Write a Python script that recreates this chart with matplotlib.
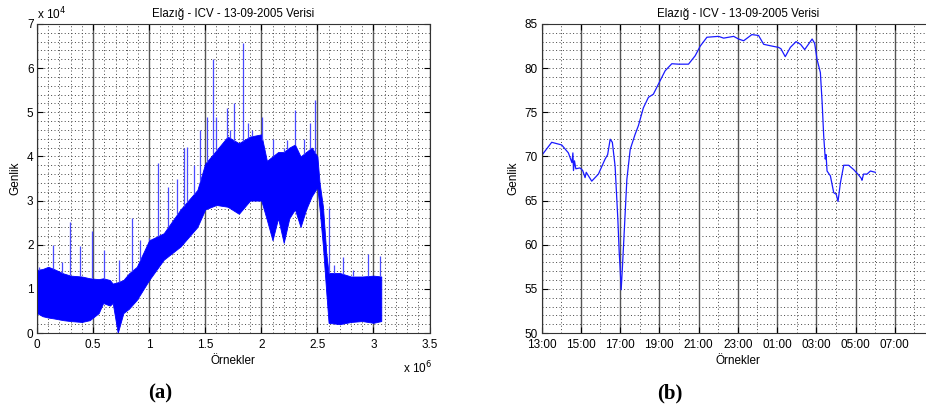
import matplotlib
matplotlib.use('Agg')
import matplotlib.pyplot as plt
import numpy as np
from matplotlib.ticker import MultipleLocator

plt.rcParams['font.family'] = ['Liberation Sans', 'DejaVu Sans']
plt.rcParams['font.size'] = 8.5

title = 'Elazığ - ICV - 13-09-2005 Verisi'

# ---- panel (a): raw samples, envelope of the dense band (x in 1e6, y in 1e4)
band_x = [0.0, 0.05, 0.1, 0.15, 0.235, 0.3, 0.4, 0.47, 0.55, 0.59, 0.65, 0.675, 0.72,
          0.77, 0.82, 0.89, 1.0, 1.13, 1.28, 1.43, 1.5, 1.6, 1.7, 1.8, 1.9, 2.0,
          2.05, 2.1, 2.15, 2.2, 2.25, 2.3, 2.35, 2.4, 2.45, 2.5, 2.52, 2.55, 2.58,
          2.6, 2.7, 2.8, 2.9, 3.0, 3.07]
band_low = [0.45, 0.38, 0.35, 0.33, 0.29, 0.27, 0.25, 0.29, 0.45, 0.68, 0.62, 0.68, 0.0,
            0.45, 0.55, 0.75, 1.2, 1.66, 1.96, 2.4, 2.8, 2.9, 2.86, 2.7, 3.0, 3.0,
            2.56, 2.1, 2.6, 2.04, 2.6, 2.8, 2.4, 2.8, 3.1, 3.3, 2.8, 1.96, 0.9,
            0.23, 0.2, 0.25, 0.27, 0.23, 0.27]
band_high = [1.43, 1.45, 1.5, 1.45, 1.35, 1.3, 1.28, 1.24, 1.22, 1.24, 1.2, 1.12, 1.15,
             1.2, 1.35, 1.5, 2.1, 2.26, 2.8, 3.24, 3.84, 4.14, 4.45, 4.3, 4.45, 4.5,
             3.9, 4.0, 4.1, 4.1, 4.2, 4.27, 4.0, 4.1, 4.2, 4.0, 3.4, 2.86, 1.8,
             1.36, 1.36, 1.28, 1.28, 1.3, 1.28]

spike_x = [0.02, 0.146, 0.22, 0.295, 0.38, 0.49, 0.6, 0.73, 0.845, 0.92, 1.0, 1.08,
           1.17, 1.25, 1.31, 1.34, 1.4, 1.455, 1.515, 1.57, 1.6, 1.69, 1.72, 1.76,
           1.84, 1.88, 1.92, 2.01, 2.1, 2.2, 2.23, 2.3, 2.38, 2.43, 2.48, 2.6,
           2.65, 2.73, 2.82, 2.95, 3.06]
spike_top = [1.5, 2.0, 1.6, 2.52, 1.96, 2.3, 1.88, 1.65, 2.6, 2.1, 2.15, 3.84,
             3.31, 3.5, 4.18, 4.22, 3.8, 4.6, 4.9, 6.2, 4.9, 5.1, 4.6, 5.2,
             6.56, 4.76, 4.6, 4.9, 4.4, 4.2, 4.37, 5.05, 4.4, 4.75, 5.28, 2.83,
             1.54, 1.73, 1.43, 1.8, 1.75]

# ---- panel (b): hourly amplitude, hours counted from 13:00
hours = [0.0, 0.04, 0.52, 1.03, 1.37, 1.55, 1.6, 1.63, 1.68, 1.75, 1.96, 2.1, 2.22,
         2.28, 2.56, 2.9, 3.24, 3.37, 3.5, 3.61, 3.75, 3.89, 3.96, 4.0, 4.06, 4.12,
         4.23, 4.35, 4.52, 4.77, 4.94, 5.19, 5.45, 5.7, 6.05, 6.3, 6.64, 6.98, 7.49,
         7.83, 8.09, 8.43, 9.02, 9.28, 9.79, 10.04, 10.3, 10.72, 11.06, 11.32, 11.74,
         12.08, 12.2, 12.42, 12.68, 12.97, 13.2, 13.41, 13.6, 13.79, 13.92, 14.04,
         14.21, 14.3, 14.38, 14.46, 14.5, 14.55, 14.72, 14.89, 15.02, 15.11, 15.23,
         15.4, 15.65, 15.91, 16.16, 16.3, 16.33, 16.41, 16.59, 16.76, 17.01]
genlik = [69.4, 70.2, 71.6, 71.3, 70.4, 69.3, 70.4, 68.4, 69.5, 68.6, 68.7, 68.4, 67.6,
          68.2, 67.2, 68.0, 69.7, 70.2, 71.95, 71.6, 68.9, 62.9, 59.1, 57.6, 54.9, 57.3,
          62.1, 67.4, 70.8, 72.5, 73.5, 75.5, 76.7, 77.05, 78.6, 79.7, 80.5, 80.45, 80.45,
          81.4, 82.5, 83.5, 83.6, 83.4, 83.6, 83.3, 83.1, 83.8, 83.7, 82.7, 82.5,
          82.35, 82.2, 81.3, 82.35, 83.0, 82.7, 82.1, 82.7, 83.3, 82.8, 81.0,
          79.5, 76.1, 72.3, 69.7, 70.2, 68.35, 67.8, 65.9, 65.7, 64.9, 67.0,
          69.0, 69.0, 68.5, 67.9, 67.5, 67.3, 68.0, 68.0, 68.35, 68.2]
time_labels = ['13:00', '15:00', '17:00', '19:00', '21:00', '23:00',
               '01:00', '03:00', '05:00', '07:00']
a_xticks = [0, 0.5, 1, 1.5, 2, 2.5, 3, 3.5]
a_xlabels = ['0', '0.5', '1', '1.5', '2', '2.5', '3', '3.5']
a_yticks = [0, 1, 2, 3, 4, 5, 6, 7]

dot = (0, (1, 2.5))


def style_axes(ax):
    ax.tick_params(direction='in', length=4, top=True, right=True)
    ax.tick_params(axis='x', pad=4.5)
    ax.tick_params(axis='y', pad=2.5)
    ax.tick_params(which='minor', length=0)
    ax.xaxis.grid(True, which='major', color='#555555', linestyle='-', linewidth=1.0)
    ax.xaxis.grid(True, which='minor', color='#444444', linestyle=dot, linewidth=0.7)
    ax.yaxis.grid(True, which='both', color='#444444', linestyle=dot, linewidth=0.7)
    ax.set_axisbelow(True)
    for s in ax.spines.values():
        s.set_linewidth(0.8)
        s.set_color('#333333')


fig = plt.figure(figsize=(9.26, 4.09), dpi=100)

# left panel
ax1 = fig.add_axes([37 / 926, 76 / 409, 392.5 / 926, 309 / 409])
ax1.fill_between(band_x, band_low, band_high, color='#0000ff', linewidth=0.6,
                 edgecolor='#0000ff')
base = np.interp(spike_x, band_x, band_high)
ax1.vlines(spike_x, base, spike_top, color='#4a4aff', linewidth=0.9)
ax1.set_xlim(0, 3.5)
ax1.set_ylim(0, 7)
ax1.set_xticks(a_xticks)
ax1.set_xticklabels(a_xlabels)
ax1.set_yticks(a_yticks)
ax1.set_yticklabels([str(v) for v in a_yticks])
ax1.xaxis.set_minor_locator(MultipleLocator(0.1))
ax1.yaxis.set_minor_locator(MultipleLocator(0.2))
style_axes(ax1)
ax1.set_title(title, fontsize=8.3, pad=5)
ax1.set_xlabel('Örnekler', labelpad=3)
ax1.set_ylabel('Genlik', labelpad=4)
fig.text(37 / 926, 1 - 14 / 409, r'x 10$^4$', fontsize=8.5, ha='left', va='center')
fig.text(403 / 926, 1 - 368 / 409, r'x 10$^6$', fontsize=8.5, ha='left', va='center')
fig.text(160 / 926, 1 - 393 / 409, '(a)', fontsize=15, fontweight='bold',
         family='Liberation Serif', ha='center', va='center')

# right panel
ax2 = fig.add_axes([541.5 / 926, 76 / 409, 392.5 / 926, 309 / 409])
ax2.plot(hours, genlik, color='#1a1aff', linewidth=0.9)
ax2.set_xlim(0, 20)
ax2.set_ylim(50, 85)
ax2.set_xticks(np.arange(0, 19, 2))
ax2.set_xticklabels(time_labels)
ax2.xaxis.set_minor_locator(MultipleLocator(1))
ax2.yaxis.set_major_locator(MultipleLocator(5))
ax2.yaxis.set_minor_locator(MultipleLocator(1))
style_axes(ax2)
ax2.set_title(title, fontsize=8.3, pad=5)
ax2.set_xlabel('Örnekler', labelpad=3)
ax2.set_ylabel('Genlik', labelpad=4)
fig.text(670 / 926, 1 - 393 / 409, '(b)', fontsize=15, fontweight='bold',
         family='Liberation Serif', ha='center', va='center')

fig.savefig('out.png', dpi=100)
